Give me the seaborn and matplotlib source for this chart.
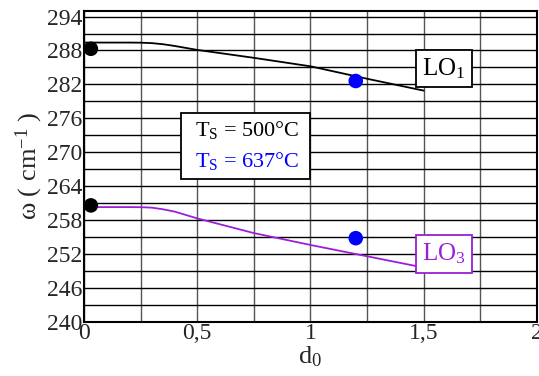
import numpy as np
import pandas as pd
import matplotlib
matplotlib.use('Agg')
import matplotlib.pyplot as plt
import seaborn as sns
from matplotlib.patches import Rectangle
from matplotlib.ticker import MultipleLocator, FuncFormatter

# curves
d0 = [0.0, 0.1, 0.2, 0.25, 0.3, 0.35, 0.4, 0.5, 0.75, 1.0, 1.25, 1.5]
lo1_curve = [289.4, 289.4, 289.4, 289.38, 289.3, 289.1, 288.8, 288.1, 286.7, 285.2, 283.0, 280.9]
lo3_curve = [260.3, 260.3, 260.3, 260.28, 260.2, 259.9, 259.5, 258.3, 255.7, 253.6, 251.6, 249.6]

# measured points
pts_x_500 = [0.03, 0.03]
pts_y_500 = [288.3, 260.6]
pts_x_637 = [1.2, 1.2]
pts_y_637 = [282.6, 254.8]

sns.set_style('white')
plt.rcParams['font.family'] = ['Liberation Serif', 'DejaVu Serif']
plt.rcParams['mathtext.fontset'] = 'custom'
plt.rcParams['mathtext.rm'] = 'Liberation Serif'
plt.rcParams['mathtext.it'] = 'Liberation Serif'

fig = plt.figure(figsize=(5.39, 3.76), dpi=100)
ax = fig.add_axes([0.156, 0.144, 0.84, 0.827])

curves = pd.DataFrame({'d0': d0 * 2, 'w': lo1_curve + lo3_curve,
                       'mode': ['LO1'] * len(d0) + ['LO3'] * len(d0)})
sns.lineplot(data=curves, x='d0', y='w', hue='mode', palette=['black', '#9b1fd6'],
             linewidth=1.3, legend=False, ax=ax, zorder=3)
sns.scatterplot(x=pts_x_500, y=pts_y_500, color='black', s=110, edgecolor='none', ax=ax, zorder=4, clip_on=False)
sns.scatterplot(x=pts_x_637, y=pts_y_637, color='#0000ff', s=110, edgecolor='none', ax=ax, zorder=4)

ax.set_xlim(0, 2)
ax.set_ylim(240, 295)
ax.xaxis.set_major_locator(MultipleLocator(0.5))
ax.xaxis.set_minor_locator(MultipleLocator(0.25))
ax.yaxis.set_major_locator(MultipleLocator(6))
ax.yaxis.set_minor_locator(MultipleLocator(3))
ax.xaxis.set_major_formatter(FuncFormatter(lambda v, p: ('%g' % v).replace('.', ',')))
ax.grid(which='both', axis='y', color='black', linewidth=1.0)
ax.grid(which='both', axis='x', color='#555555', linewidth=1.0)
ax.set_axisbelow(True)
for s in ax.spines.values():
    s.set_color('black')
    s.set_linewidth(1.5)
ax.tick_params(which='both', length=0, labelsize=17, pad=1)

ax.set_xlabel('d$_0$', fontsize=19, labelpad=0)
ax.set_ylabel('ω ( cm$^{-1}$ )', fontsize=19, labelpad=2)

ax.text(1.59, 284.8, 'LO$_1$', fontsize=18, ha='center', va='center', color='black', zorder=6,
        bbox=dict(boxstyle='square,pad=0.25', facecolor='white', edgecolor='black', linewidth=1.3))
ax.text(1.59, 252.0, 'LO$_3$', fontsize=18, ha='center', va='center', color='#9b1fd6', zorder=6,
        bbox=dict(boxstyle='square,pad=0.25', facecolor='white', edgecolor='#9b1fd6', linewidth=1.3))

ax.add_patch(Rectangle((0.428, 265.2), 0.57, 11.7, facecolor='white', edgecolor='black',
                       linewidth=1.3, zorder=5))
ax.text(0.72, 273.9, 'T$_\\mathrm{S}$ = 500°C', fontsize=16, ha='center', va='center', color='black', zorder=6)
ax.text(0.72, 268.4, 'T$_\\mathrm{S}$ = 637°C', fontsize=16, ha='center', va='center', color='#0000ff', zorder=6)

fig.savefig('out.png', dpi=100)
